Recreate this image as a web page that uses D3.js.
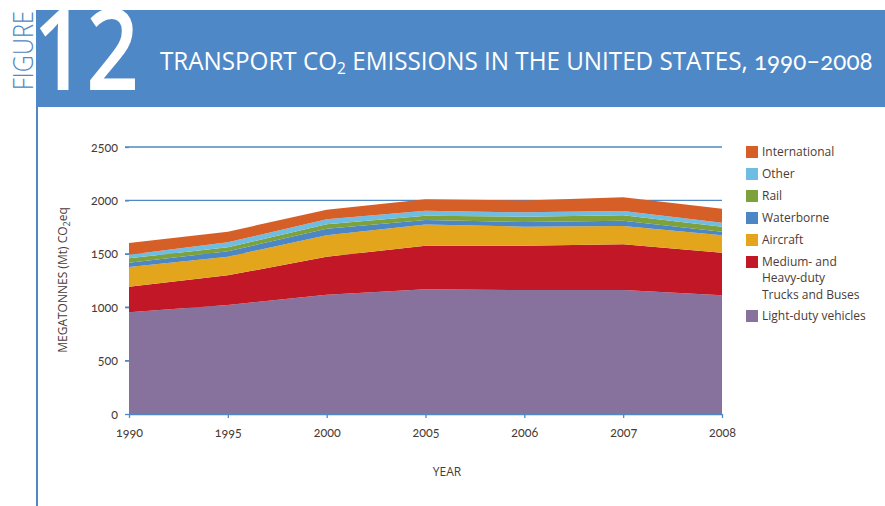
<!DOCTYPE html>
<html>
<head>
<meta charset="utf-8">
<title>Transport CO2 emissions</title>
<script src="https://d3js.org/d3.v7.min.js"></script>
<style>
  body { margin: 0; background: #fff; }
  svg text { font-family: "Open Sans", "Noto Sans", sans-serif; }
  .num { font-family: Lato, "Open Sans", sans-serif; font-variant-numeric: oldstyle-nums; }
</style>
</head>
<body>
<script>
// values (Mt CO2eq)
var years = ["1990", "1995", "2000", "2005", "2006", "2007", "2008"];
var lightDuty     = [952, 1021, 1117, 1168, 1161, 1161, 1111];
var trucks        = [240, 277, 356, 408, 415, 428, 399];
var aircraft      = [184, 175, 200, 198, 178, 171, 163];
var waterborne    = [41, 50, 62, 42, 44, 50, 34];
var rail          = [41, 38, 41, 41, 50, 50, 47];
var other         = [34, 47, 47, 46, 40, 41, 37];
var international = [109, 99, 90, 107, 112, 128, 131];
var yTicks = [0, 500, 1000, 1500, 2000, 2500];

var keys = ["light", "trucks", "aircraft", "water", "rail", "other", "intl"];
var colors = {
  light: "#87729e", trucks: "#c21726", aircraft: "#e2a51c", water: "#4c86c5",
  rail: "#7da13b", other: "#6fbde3", intl: "#d65f27"
};
var legendItems = [
  { key: "intl", lines: ["International"] },
  { key: "other", lines: ["Other"] },
  { key: "rail", lines: ["Rail"] },
  { key: "water", lines: ["Waterborne"] },
  { key: "aircraft", lines: ["Aircraft"] },
  { key: "trucks", lines: ["Medium- and", "Heavy-duty", "Trucks and Buses"] },
  { key: "light", lines: ["Light-duty vehicles"] }
];

var table = years.map(function(y, i) {
  return { year: y, light: lightDuty[i], trucks: trucks[i], aircraft: aircraft[i],
           water: waterborne[i], rail: rail[i], other: other[i], intl: international[i] };
});

var width = 885, height = 506;
var blue = "#4f88c6", ink = "#4a3b36";

var svg = d3.select("body").append("svg")
  .attr("width", width)
  .attr("height", height);

// header banner
svg.append("rect")
  .attr("x", 36).attr("y", 10).attr("width", width - 36).attr("height", 97)
  .attr("fill", blue);
svg.append("rect")
  .attr("x", 36).attr("y", 107).attr("width", 2).attr("height", height - 107)
  .attr("fill", blue);

svg.append("text")
  .attr("transform", "translate(33,90) rotate(-90)")
  .attr("fill", blue)
  .attr("font-size", 28)
  .attr("font-weight", 300)
  .attr("textLength", 79)
  .attr("lengthAdjust", "spacingAndGlyphs")
  .text("FIGURE");

svg.append("text")
  .attr("x", 33).attr("y", 90)
  .attr("fill", "#fff")
  .attr("font-size", 112)
  .attr("font-weight", 600)
  .attr("textLength", 106)
  .attr("lengthAdjust", "spacingAndGlyphs")
  .text("12");

// title, squeezed horizontally to the reference width
var title = svg.append("text")
  .attr("fill", "#fff")
  .attr("font-size", 25)
  .attr("font-weight", 400);
title.append("tspan").text("TRANSPORT CO");
title.append("tspan").attr("font-size", 16).attr("dy", 4).text("2");
title.append("tspan").attr("dy", -4).text(" EMISSIONS IN THE UNITED STATES, ");
title.append("tspan").attr("class", "num").text("1990–2008");
var tw = title.node().getComputedTextLength();
title.attr("transform", "translate(160,70) scale(" + (713 / tw) + ",1)");

// chart
var x = d3.scalePoint().domain(years).range([129, 722]);
var y = d3.scaleLinear().domain([0, 2500]).range([414, 147]);

var g = svg.append("g");

g.selectAll(".grid")
  .data(yTicks.filter(function(d) { return d > 0; }))
  .enter().append("line")
  .attr("x1", 125).attr("x2", 722)
  .attr("y1", function(d) { return y(d); })
  .attr("y2", function(d) { return y(d); })
  .attr("stroke", blue).attr("stroke-width", 1.3);

var series = d3.stack().keys(keys)(table);
var area = d3.area()
  .x(function(d) { return x(d.data.year); })
  .y0(function(d) { return y(d[0]); })
  .y1(function(d) { return y(d[1]); });

g.selectAll(".layer")
  .data(series)
  .enter().append("path")
  .attr("fill", function(d) { return colors[d.key]; })
  .attr("d", area);

// y axis (ticks only)
var yAxis = g.append("g")
  .attr("transform", "translate(129,0)")
  .call(d3.axisLeft(y).tickValues(yTicks).tickFormat(d3.format("d")).tickSize(4).tickPadding(7));
yAxis.select(".domain").remove();
yAxis.selectAll("line").attr("stroke", blue).attr("stroke-width", 1.3);
yAxis.selectAll("text").attr("class", "num").attr("fill", ink).attr("font-size", 12.5);

// x axis
var xAxis = g.append("g")
  .attr("transform", "translate(0,414)")
  .call(d3.axisBottom(x).tickSize(4).tickSizeOuter(0).tickPadding(10));
xAxis.select(".domain").attr("stroke", blue).attr("stroke-width", 1.5);
xAxis.selectAll("line").attr("stroke", blue).attr("stroke-width", 1.3);
xAxis.selectAll("text").attr("class", "num").attr("fill", ink).attr("font-size", 12.5);

svg.append("text")
  .attr("x", 447).attr("y", 476)
  .attr("text-anchor", "middle")
  .attr("fill", ink).attr("font-size", 12)
  .text("YEAR");

var yLabel = svg.append("text")
  .attr("transform", "translate(67,280) rotate(-90)")
  .attr("text-anchor", "middle")
  .attr("fill", ink).attr("font-size", 12);
yLabel.append("tspan").text("MEGATONNES (Mt) CO");
yLabel.append("tspan").attr("font-size", 9).attr("dy", 3).text("2");
yLabel.append("tspan").attr("dy", -3).text("eq");

// legend
var lg = svg.append("g").attr("transform", "translate(746,0)");
var legendY = [152, 174, 196, 218, 240, 262, 316];
legendItems.forEach(function(item, i) {
  var row = lg.append("g").attr("transform", "translate(0," + legendY[i] + ")");
  row.append("rect")
    .attr("x", 0).attr("y", -6).attr("width", 12).attr("height", 12)
    .attr("fill", colors[item.key]);
  row.selectAll("text")
    .data(item.lines)
    .enter().append("text")
    .attr("x", 16)
    .attr("y", function(d, j) { return j * 16.2; })
    .attr("dy", "0.35em")
    .attr("fill", ink).attr("font-size", 12)
    .text(function(d) { return d; });
});
</script>
</body>
</html>
